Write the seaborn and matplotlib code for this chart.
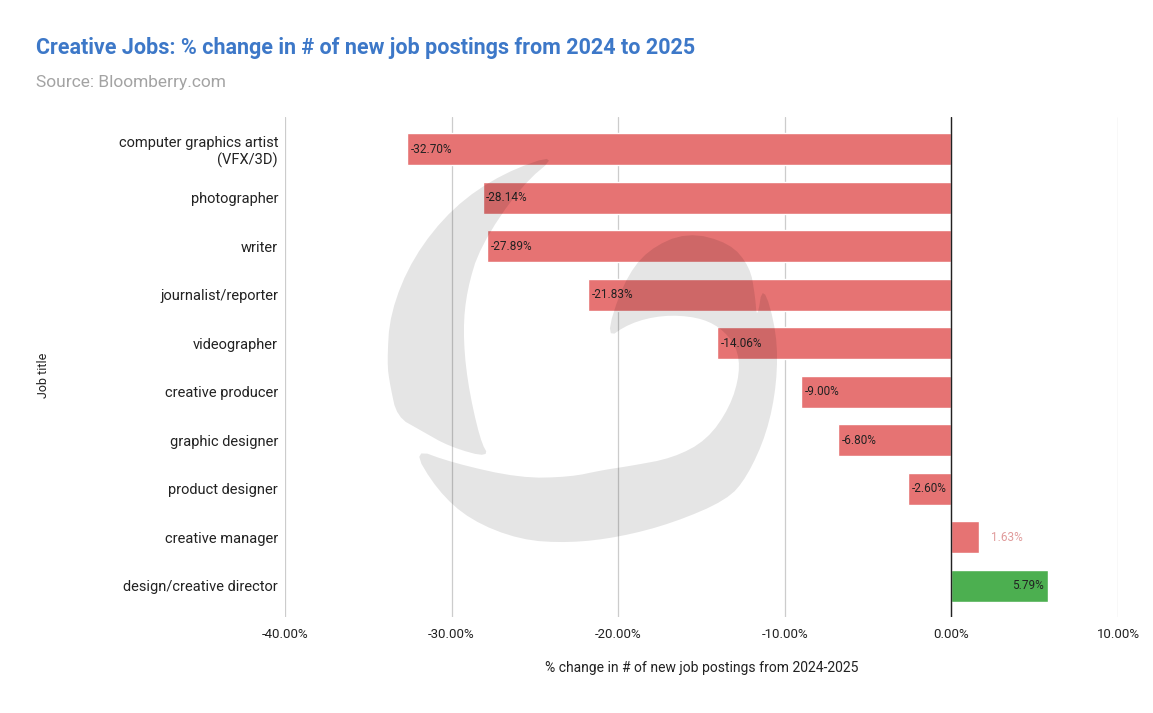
import numpy as np
import matplotlib
matplotlib.use("Agg")
import matplotlib.pyplot as plt
from matplotlib.patches import Polygon
import seaborn as sns

# data
jobs = ["computer graphics artist\n(VFX/3D)", "photographer", "writer",
        "journalist/reporter", "videographer", "creative producer",
        "graphic designer", "product designer", "creative manager",
        "design/creative director"]
pct_change = [-32.70, -28.14, -27.89, -21.83, -14.06, -9.00, -6.80, -2.60, 1.63, 5.79]
bar_colors = ["#e67373"] * 9 + ["#4caf50"]
x_ticks = [-40, -30, -20, -10, 0, 10]


def chaikin(pts, n=2):
    """corner-cutting smoothing for a closed outline"""
    pts = np.asarray(pts, dtype=float)
    for _ in range(n):
        nxt = np.roll(pts, -1, axis=0)
        q = 0.75 * pts + 0.25 * nxt
        r = 0.25 * pts + 0.75 * nxt
        pts = np.empty((2 * len(q), 2))
        pts[0::2] = q
        pts[1::2] = r
    return pts


sns.set_style("white")
plt.rcParams['font.family'] = ['Roboto', 'DejaVu Sans']

W, H = 1153, 713
fig = plt.figure(figsize=(W / 100, H / 100), dpi=100)
ax = fig.add_axes([285 / W, 1 - 617 / H, (1118 - 285) / W, (617 - 117) / H])

sns.barplot(x=pct_change, y=jobs, hue=jobs, palette=bar_colors, legend=False,
            orient="h", width=0.66, saturation=1, ax=ax, zorder=2)

ax.set_xlim(-40, 10)
ax.set_ylim(9.64, -0.66)
ax.set_xticks(x_ticks)
ax.set_xticklabels([f"{t:.2f}%" for t in x_ticks], fontsize=9.5, color="#222222")
ax.tick_params(axis="x", length=0, pad=8)
ax.tick_params(axis="y", length=0, pad=5, labelsize=10.5, labelcolor="#222222")
for lbl in ax.get_yticklabels():
    lbl.set_horizontalalignment("right")
    lbl.set_multialignment("right")
ax.xaxis.grid(True, color="#cccccc", linewidth=0.9, zorder=0)
ax.set_axisbelow(True)
ax.axvline(0, color="#222222", linewidth=1, zorder=3)
for s in ax.spines.values():
    s.set_visible(False)

ax.set_xlabel("% change in # of new job postings from 2024-2025", fontsize=10,
              color="#222222", labelpad=14)
ax.set_ylabel("")
fig.text(43 / W, 1 - 375 / H, "Job title", rotation=90, fontsize=9,
         color="#222222", ha="center", va="center")

# value labels
for i, v in enumerate(pct_change):
    txt = f"{v:.2f}%"
    if v < 0:
        ax.text(v + 0.22, i, txt, ha="left", va="center", fontsize=8.5, color="#222222", zorder=4)
    elif v < 3:
        ax.text(v + 0.75, i, txt, ha="left", va="center", fontsize=8.5, color="#e09a9a", zorder=4)
    else:
        ax.text(v - 0.25, i, txt, ha="right", va="center", fontsize=8.5, color="#222222", zorder=4)

fig.text(36 / W, 1 - 48 / H, "Creative Jobs: % change in # of new job postings from 2024 to 2025",
         fontsize=15.5, fontweight="bold", color="#3d78c8", ha="left", va="center")
fig.text(36 / W, 1 - 82 / H, "Source: Bloomberry.com", fontsize=12.5,
         color="#a3a3a3", ha="left", va="center")

# faint logo watermark, two pieces (pixel outline, y measured from top)
logo_left = [(560, 153), (503, 173), (453, 207), (413, 257), (390, 313), (387, 363),
             (390, 385), (397, 417), (420, 430), (450, 447), (490, 458), (480, 440),
             (467, 380), (463, 330), (467, 290), (480, 247), (520, 187)]
logo_right = [(412, 448), (437, 490), (470, 520), (520, 540), (570, 543), (620, 537),
              (673, 523), (727, 500), (747, 477), (767, 433), (777, 383), (777, 333),
              (763, 283), (757, 320), (755, 295), (750, 267), (730, 243), (687, 232),
              (647, 250), (623, 283), (605, 340), (630, 323), (663, 315), (697, 317),
              (720, 327), (737, 347), (740, 373), (730, 407), (707, 440), (673, 458),
              (630, 466), (603, 470), (570, 477), (520, 478), (453, 463)]
for piece in (logo_left, logo_right):
    pts = chaikin(piece)
    pts = np.column_stack([pts[:, 0] / W, 1 - pts[:, 1] / H])
    fig.add_artist(Polygon(pts, closed=True, transform=fig.transFigure,
                           facecolor="black", alpha=0.1, edgecolor="none", zorder=10))

fig.savefig("out.png", dpi=100)
